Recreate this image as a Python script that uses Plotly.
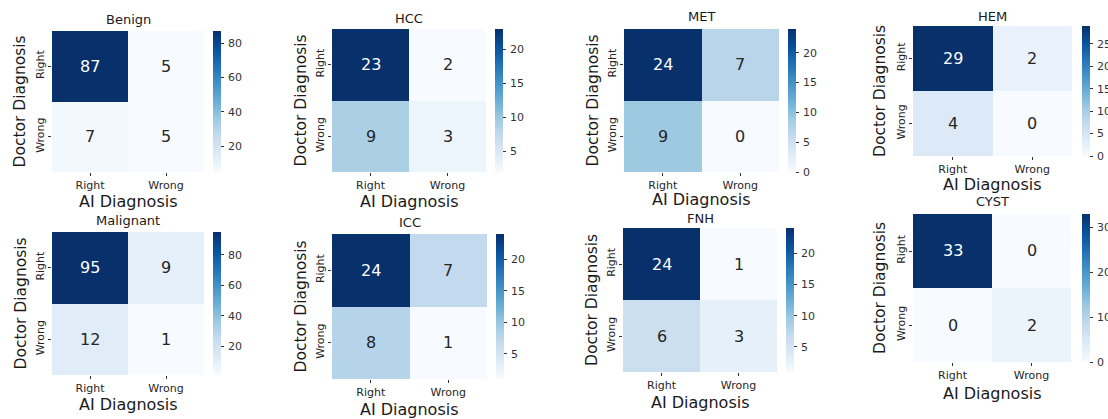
import plotly.graph_objects as go
import plotly.colors as pc

# ---- data -------------------------------------------------------------
labels = ["Right", "Wrong"]
panel_names = ["Benign", "HCC", "MET", "HEM", "Malignant", "ICC", "FNH", "CYST"]

benign = [[87, 5], [7, 5]]
hcc = [[23, 2], [9, 3]]
met = [[24, 7], [9, 0]]
hem = [[29, 2], [4, 0]]
malignant = [[95, 9], [12, 1]]
icc = [[24, 7], [8, 1]]
fnh = [[24, 1], [6, 3]]
cyst = [[33, 0], [0, 2]]
matrices = [benign, hcc, met, hem, malignant, icc, fnh, cyst]

cbar_dticks = [20, 5, 5, 5, 20, 5, 5, 10]

# ---- layout geometry (pixels) ----------------------------------------
W, H = 1108, 419
# heatmap box (left, top, right, bottom), colorbar left, title y, x-label y, y-label x
boxes = [
    ((52, 31, 204, 172), 213, 20, 201, 20),
    ((332, 29, 486, 172), 495, 19, 201, 300),
    ((624, 29, 779, 172), 788, 17, 200, 592),
    ((913, 26, 1072, 156), 1082, 16, 184, 880),
    ((52, 232, 204, 375), 213, 220, 404, 20),
    ((332, 234, 487, 379), 496, 223, 409, 300),
    ((623, 228, 777, 372), 786, 218, 402, 592),
    ((913, 214, 1071, 362), 1082, 201, 393, 880),
]

FONT = "DejaVu Sans"
DARK = "#262626"
blues = pc.sequential.Blues


def px_x(v):
    return v / W


def px_y(v):
    return 1 - v / H


def scale_color(t):
    n = len(blues) - 1
    t = min(max(t, 0.0), 1.0)
    i = min(int(t * n), n - 1)
    f = t * n - i
    a = pc.unlabel_rgb(blues[i])
    b = pc.unlabel_rgb(blues[i + 1])
    return [a[k] + (b[k] - a[k]) * f for k in range(3)]


def luminance(rgb):
    out = []
    for c in rgb:
        c = c / 255
        out.append(c / 12.92 if c <= 0.03928 else ((c + 0.055) / 1.055) ** 2.4)
    return 0.2126 * out[0] + 0.7152 * out[1] + 0.0722 * out[2]


fig = go.Figure()
annotations = []
layout_axes = {}

for k, (name, z, dt, box) in enumerate(zip(panel_names, matrices, cbar_dticks, boxes)):
    (l, t, r, b), cbx, ty, aiy, docx = box
    idx = "" if k == 0 else str(k + 1)
    xa, ya = "x" + idx, "y" + idx
    zmin = min(min(row) for row in z)
    zmax = max(max(row) for row in z)

    fig.add_trace(go.Heatmap(
        z=z, x=labels, y=labels, xaxis=xa, yaxis=ya,
        colorscale="Blues", zmin=zmin, zmax=zmax,
        hoverinfo="skip",
        colorbar=dict(
            x=px_x(cbx), xanchor="left", y=px_y(t), yanchor="top",
            len=b - t, lenmode="pixels", thickness=8, thicknessmode="pixels",
            xpad=0, ypad=0, outlinewidth=0,
            tick0=0, dtick=dt, ticks="outside", ticklen=3, tickwidth=1,
            tickcolor="#333333", tickprefix="\u2009",
            tickfont=dict(family=FONT, size=11, color="#333333"),
        ),
    ))

    layout_axes["xaxis" + idx] = dict(
        domain=[px_x(l), px_x(r)], anchor=ya, showgrid=False, zeroline=False,
        showline=False, ticks="outside", ticklen=3, tickcolor="#333333",
        tickfont=dict(family=FONT, size=11, color=DARK),
    )
    layout_axes["yaxis" + idx] = dict(
        domain=[px_y(b), px_y(t)], anchor=xa, autorange="reversed",
        showgrid=False, zeroline=False, showline=False, ticks="outside",
        ticklen=3, tickcolor="#333333", tickangle=-90,
        tickfont=dict(family=FONT, size=11, color=DARK),
    )

    # cell values
    for i, row_label in enumerate(labels):
        for j, col_label in enumerate(labels):
            v = z[i][j]
            tnorm = (v - zmin) / (zmax - zmin) if zmax > zmin else 0
            col = "white" if luminance(scale_color(tnorm)) < 0.408 else DARK
            annotations.append(dict(
                x=col_label, y=row_label, xref=xa, yref=ya, text=str(v),
                showarrow=False, font=dict(family=FONT, size=16, color=col),
            ))

    cx = (l + r) / 2
    annotations.append(dict(
        x=px_x(cx), y=px_y(ty), xref="paper", yref="paper", text=name,
        showarrow=False, xanchor="center", yanchor="middle",
        font=dict(family=FONT, size=13, color="#1a1a1a"),
    ))
    annotations.append(dict(
        x=px_x(cx), y=px_y(aiy), xref="paper", yref="paper", text="AI Diagnosis",
        showarrow=False, xanchor="center", yanchor="middle",
        font=dict(family=FONT, size=16, color="#1a1a1a"),
    ))
    annotations.append(dict(
        x=px_x(docx), y=px_y((t + b) / 2), xref="paper", yref="paper",
        text="Doctor Diagnosis", textangle=-90, showarrow=False,
        xanchor="center", yanchor="middle",
        font=dict(family=FONT, size=15.5, color="#1a1a1a"),
    ))

fig.update_layout(
    width=W, height=H,
    margin=dict(l=0, r=0, t=0, b=0, autoexpand=False),
    paper_bgcolor="white", plot_bgcolor="white",
    font=dict(family=FONT),
    annotations=annotations,
    showlegend=False,
    **layout_axes,
)

fig.write_html("out.html", config={"displayModeBar": False})
